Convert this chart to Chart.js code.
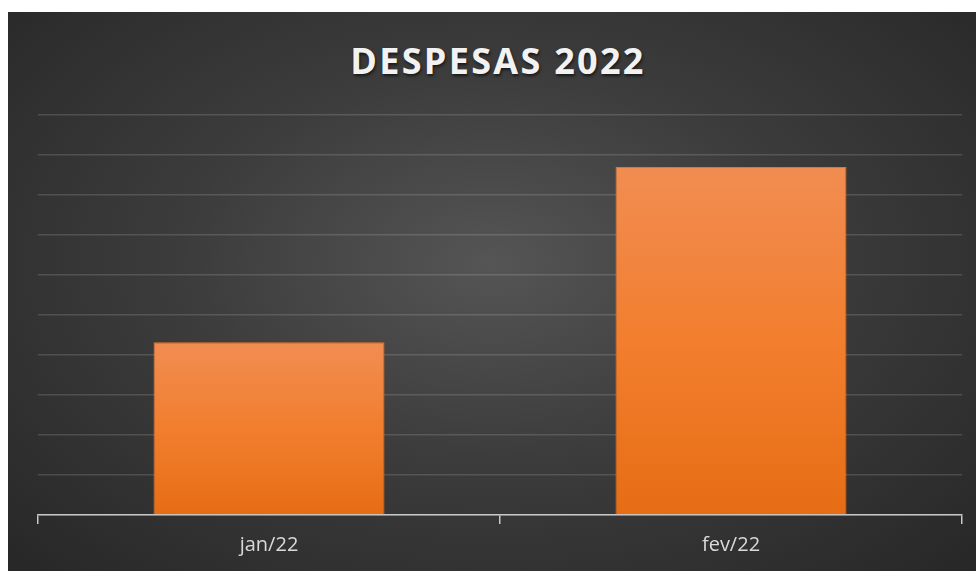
<!DOCTYPE html>
<html>
<head>
<meta charset="utf-8">
<script src="https://cdn.jsdelivr.net/npm/chart.js@4.4.0/dist/chart.umd.min.js"></script>
<style>
  html, body { margin: 0; padding: 0; background: #ffffff; }
  #panel {
    position: absolute; left: 8px; top: 12px; width: 968px; height: 559px;
    background: radial-gradient(ellipse at 50% 45%, #555555 0%, #3c3c3c 45%, #272727 100%);
  }
  #title {
    position: absolute; left: 6px; top: 31px; width: 100%; text-align: center;
    font-family: "Open Sans", sans-serif; font-weight: bold; font-size: 36px; line-height: 36px;
    letter-spacing: 2.3px; color: #f2f2f2; text-shadow: 1px 2px 3px rgba(0,0,0,0.6);
  }
  #wrap { position: absolute; left: 0; top: 0; width: 968px; height: 559px; }
</style>
</head>
<body>
<div id="panel">
  <div id="title">DESPESAS 2022</div>
  <div id="wrap"><canvas id="chart"></canvas></div>
</div>
<script>
const months = ["jan/22", "fev/22"];
const despesas = [4.32, 8.7];
const yTicks = [0, 1, 2, 3, 4, 5, 6, 7, 8, 9, 10];

const ctx = document.getElementById("chart").getContext("2d");

function barGradient(context) {
  const chart = context.chart;
  const area = chart.chartArea;
  if (!area || !chart.scales.y) return "#ee7b30";
  const top = chart.scales.y.getPixelForValue(context.raw);
  const bottom = chart.scales.y.getPixelForValue(0);
  const g = chart.ctx.createLinearGradient(0, top, 0, bottom);
  g.addColorStop(0, "#f18d52");
  g.addColorStop(0.5, "#f27e2e");
  g.addColorStop(1, "#e66d14");
  return g;
}

new Chart(ctx, {
  type: "bar",
  data: {
    labels: months,
    datasets: [{
      label: "Despesas",
      data: despesas,
      backgroundColor: barGradient,
      borderColor: "#e87324",
      borderWidth: 1,
      barPercentage: 0.5,
      categoryPercentage: 1
    }]
  },
  options: {
    responsive: true,
    maintainAspectRatio: false,
    animation: false,
    layout: { padding: { left: 30, right: 14, top: 103, bottom: 5 } },
    plugins: {
      legend: { display: false },
      tooltip: { enabled: false }
    },
    scales: {
      x: {
        offset: true,
        border: { display: true, color: "#c8c8c8", width: 1.5 },
        grid: { offset: true, drawOnChartArea: false, drawTicks: true, tickLength: 9, color: "#c8c8c8", lineWidth: 1.5 },
        ticks: { color: "#d9d9d9", font: { family: "Open Sans", size: 20 }, padding: 9 }
      },
      y: {
        min: 0,
        max: 10,
        afterBuildTicks: axis => { axis.ticks = yTicks.map(v => ({ value: v })); },
        border: { display: false },
        grid: { color: "rgba(255,255,255,0.14)", lineWidth: 1.5, drawTicks: false },
        ticks: { display: false }
      }
    }
  }
});
</script>
</body>
</html>
